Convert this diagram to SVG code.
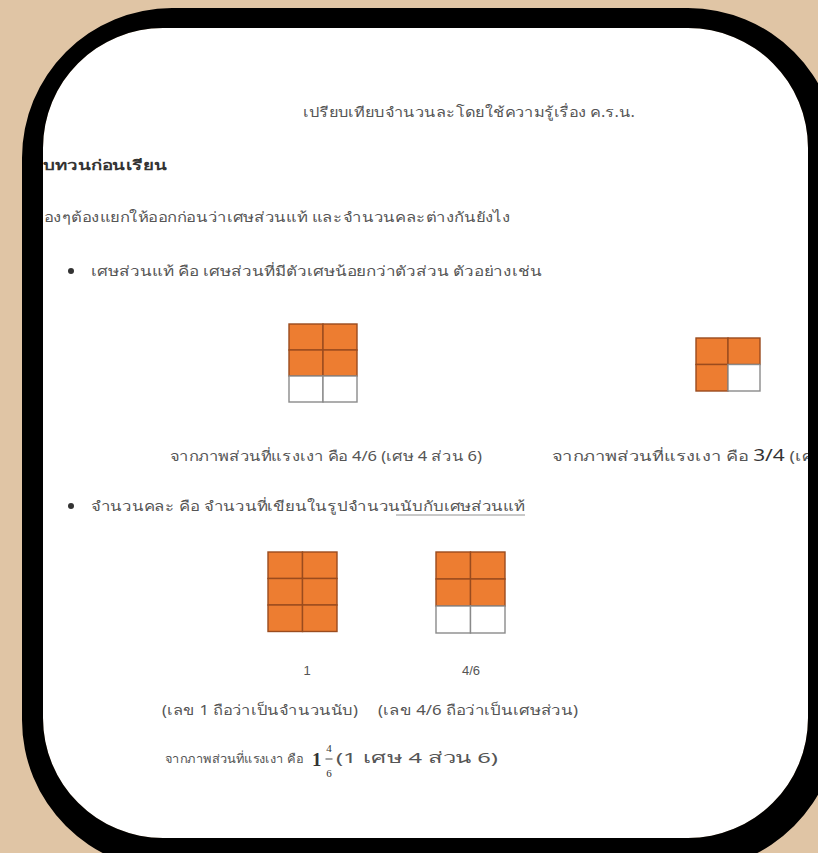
<svg xmlns="http://www.w3.org/2000/svg" width="818" height="853" viewBox="0 0 818 853">
<style>
.t{font-family:"Noto Sans","Liberation Sans",sans-serif;font-size:14px;fill:#555}
.h{font-family:"Noto Sans","Liberation Sans",sans-serif;font-size:14px;font-weight:bold;fill:#333}
.n{font-family:"Liberation Sans",sans-serif;font-size:13px;fill:#555}
.s{font-family:"Liberation Serif",serif;fill:#333}
.o{fill:#ed7d31;stroke:#9a4b1e;stroke-width:1.4}
.w{fill:#fff;stroke:#8a8a8a;stroke-width:1.4}
.dot{fill:#333}
</style>
<rect width="818" height="853" fill="#e0c5a5"/>
<rect x="43" y="28" width="765" height="810" rx="120" fill="#fff"/>

<g id="title"><text class="t" x="303" y="117" textLength="332" lengthAdjust="spacingAndGlyphs">เปรียบเทียบจำนวนละโดยใช้ความรู้เรื่อง ค.ร.น.</text></g>
<g id="header"><text class="h" x="43" y="170" textLength="124" lengthAdjust="spacingAndGlyphs">บทวนก่อนเรียน</text></g>
<g id="intro"><text class="t" x="44" y="222" textLength="466" lengthAdjust="spacingAndGlyphs">องๆต้องแยกให้ออกก่อนว่าเศษส่วนแท้ และจำนวนคละต่างกันยังไง</text></g>

<g id="bullet1">
<circle class="dot" cx="71" cy="271" r="3"/>
<text class="t" x="91" y="276" textLength="451" lengthAdjust="spacingAndGlyphs">เศษส่วนแท้ คือ เศษส่วนที่มีตัวเศษน้อยกว่าตัวส่วน ตัวอย่างเช่น</text>
</g>

<g id="grid-4-6">
<rect class="o" x="289" y="324" width="34" height="26"/>
<rect class="o" x="323" y="324" width="34" height="26"/>
<rect class="o" x="289" y="350" width="34" height="26"/>
<rect class="o" x="323" y="350" width="34" height="26"/>
<rect class="w" x="289" y="376" width="34" height="26"/>
<rect class="w" x="323" y="376" width="34" height="26"/>
</g>
<g id="grid-3-4">
<rect class="o" x="696" y="338" width="32" height="26.5"/>
<rect class="o" x="728" y="338" width="32" height="26.5"/>
<rect class="o" x="696" y="364.5" width="32" height="26.5"/>
<rect class="w" x="728" y="364.5" width="32" height="26.5"/>
</g>

<g id="caption1"><text class="t" x="170" y="461" textLength="312" lengthAdjust="spacingAndGlyphs">จากภาพส่วนที่แรงเงา คือ 4/6 (เศษ 4 ส่วน 6)</text></g>
<g id="caption2"><text class="t" x="552" y="461" textLength="273" lengthAdjust="spacingAndGlyphs">จากภาพส่วนที่แรงเงา คือ <tspan style="font-size:16px;fill:#333">3/4</tspan> (เศษ</text></g>

<g id="bullet2">
<circle class="dot" cx="71" cy="506" r="3"/>
<text class="t" x="91" y="511" textLength="434" lengthAdjust="spacingAndGlyphs">จำนวนคละ คือ จำนวนที่เขียนในรูปจำนวนนับกับเศษส่วนแท้</text>
<line x1="396" y1="515" x2="525" y2="515" stroke="#777" stroke-width="0.8"/>
</g>

<g id="grid-1">
<rect class="o" x="268" y="552" width="34.5" height="26.5"/>
<rect class="o" x="302.5" y="552" width="34.5" height="26.5"/>
<rect class="o" x="268" y="578.5" width="34.5" height="26.5"/>
<rect class="o" x="302.5" y="578.5" width="34.5" height="26.5"/>
<rect class="o" x="268" y="605" width="34.5" height="26.5"/>
<rect class="o" x="302.5" y="605" width="34.5" height="26.5"/>
</g>
<g id="grid-4-6b">
<rect class="o" x="436" y="552" width="34.5" height="27"/>
<rect class="o" x="470.5" y="552" width="34.5" height="27"/>
<rect class="o" x="436" y="579" width="34.5" height="27"/>
<rect class="o" x="470.5" y="579" width="34.5" height="27"/>
<rect class="w" x="436" y="606" width="34.5" height="27"/>
<rect class="w" x="470.5" y="606" width="34.5" height="27"/>
</g>

<g id="label-1"><text class="n" x="307" y="675" text-anchor="middle">1</text></g>
<g id="label-4-6"><text class="n" x="471" y="675" text-anchor="middle">4/6</text></g>
<g id="note1"><text class="t" x="162" y="715" textLength="196" lengthAdjust="spacingAndGlyphs">(เลข 1 ถือว่าเป็นจำนวนนับ)</text></g>
<g id="note2"><text class="t" x="378" y="715" textLength="200" lengthAdjust="spacingAndGlyphs">(เลข 4/6 ถือว่าเป็นเศษส่วน)</text></g>

<g id="result">
<text class="t" x="165" y="763" textLength="138" lengthAdjust="spacingAndGlyphs" style="font-size:12px">จากภาพส่วนที่แรงเงา คือ</text>
<text class="s" x="312" y="766" font-size="19" font-weight="bold">1</text>
<text class="s" x="329" y="752" font-size="11" text-anchor="middle">4</text>
<line x1="325.5" y1="759" x2="332.5" y2="759" stroke="#333" stroke-width="0.9"/>
<text class="s" x="329" y="777" font-size="11" text-anchor="middle">6</text>
<text class="t" x="336" y="763" textLength="162" lengthAdjust="spacingAndGlyphs" style="font-size:15px">(1 เศษ 4 ส่วน 6)</text>
</g>

<g id="frame"><path fill="#000" fill-rule="evenodd" d="M172,8 H688 A150,150 0 0 1 838,158 V720 A150,150 0 0 1 688,870 H172 A150,150 0 0 1 22,720 V158 A150,150 0 0 1 172,8 Z M163,28 H688 A120,120 0 0 1 808,148 V718 A120,120 0 0 1 688,838 H163 A120,120 0 0 1 43,718 V148 A120,120 0 0 1 163,28 Z"/></g>
</svg>
